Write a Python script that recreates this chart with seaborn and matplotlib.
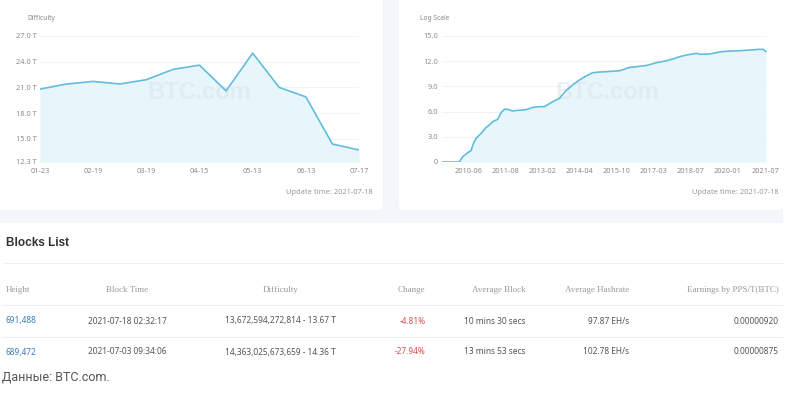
import matplotlib
matplotlib.use("Agg")
import matplotlib.pyplot as plt
import matplotlib.transforms as mtransforms
from matplotlib.patches import Rectangle, FancyBboxPatch
from matplotlib.lines import Line2D
import seaborn as sns

# ---- data ----
diff_dates = ['01-23', '02-06', '02-19', '03-05', '03-19', '04-02', '04-15',
              '04-29', '05-13', '05-28', '06-13', '07-03', '07-17']
diff_T = [20.8, 21.4, 21.7, 21.4, 21.9, 23.1, 23.6, 20.6, 25.0, 21.0, 19.9, 14.4, 13.7]
diff_yticks = [12.3, 15.0, 18.0, 21.0, 24.0, 27.0]

# log-scale history: position along the category axis, log10(difficulty)
log_pos = [0, 17.7, 21, 26, 29.3, 31.7, 34.3, 39.3, 44.3, 47.7, 51, 56, 59.3, 62.7,
           66, 71, 76, 84.3, 91, 97.7, 102.7, 109.3, 117.7, 124.3, 131, 137.7, 144.3,
           151, 157.7, 164.3, 178.3, 186.6, 195, 205, 215, 225, 233, 238, 245, 255,
           258, 268, 278, 288, 298, 308, 318, 321.6, 324.3]
log_val = [0, 0, 0.63, 1.1, 1.35, 2.2, 2.8, 3.4, 4.1, 4.4, 4.8, 5.08, 5.87, 6.27,
           6.27, 6.07, 6.15, 6.23, 6.5, 6.59, 6.59, 7.06, 7.58, 8.5, 9.17, 9.76, 10.24,
           10.63, 10.71, 10.75, 10.87, 11.23, 11.35, 11.5, 11.83, 12.06, 12.34, 12.54,
           12.74, 12.94, 12.82, 12.86, 13.1, 13.21, 13.25, 13.33, 13.41, 13.41, 13.13]
log_tick_pos = [26.7, 63.7, 101, 138.3, 175, 212, 249.3, 286, 324]
log_tick_labels = ['2010-06', '2011-08', '2013-02', '2014-04', '2015-10',
                   '2017-03', '2018-07', '2020-01', '2021-07']
log_yticks = [0, 3, 6, 9, 12, 15]

table_header = ['Height', 'Block Time', 'Difficulty', 'Change',
                'Average Block', 'Average Hashrate', 'Earnings by PPS/T(BTC)']
table_rows = [
    ['691,488', '2021-07-18 02:32:17', '13,672,594,272,814 - 13.67 T', '-4.81%',
     '10 mins 30 secs', '97.87 EH/s', '0.00000920'],
    ['689,472', '2021-07-03 09:34:06', '14,363,025,673,659 - 14.36 T', '-27.94%',
     '13 mins 53 secs', '102.78 EH/s', '0.00000875'],
]

LINE = '#62bcdc'
FILL = '#e7f6fb'
TICK = '#8c8c8c'

sns.set_theme(style="white")
plt.rcParams['font.family'] = ['Noto Sans', 'DejaVu Sans']
BOLD = ['Liberation Sans', 'DejaVu Sans']

W, H = 792, 397
fig = plt.figure(figsize=(W / 100, H / 100), dpi=100, facecolor='white')
# pixel coords, origin top-left
pix = mtransforms.Affine2D().scale(1 / W, -1 / H).translate(0, 1) + fig.transFigure

# page background + cards
fig.add_artist(Rectangle((0, -5), 783, 228, transform=pix, color='#f3f6fa', zorder=-3, lw=0))
for x0, x1 in [(-10, 383), (399, 783)]:
    fig.add_artist(FancyBboxPatch((x0, -10), x1 - x0, 220, transform=pix,
                                  boxstyle="round,pad=0,rounding_size=5",
                                  fc='white', ec='none', zorder=-2))


def axes_px(x0, y0, x1, y1):
    return fig.add_axes([x0 / W, 1 - y1 / H, (x1 - x0) / W, (y1 - y0) / H])


def style(ax):
    ax.set_facecolor('none')
    for s in ax.spines.values():
        s.set_visible(False)
    ax.tick_params(length=0, labelsize=5.3, labelcolor=TICK)
    ax.tick_params(axis='y', pad=2.5)
    ax.tick_params(axis='x', pad=4)
    ax.set_xlabel('')
    ax.set_ylabel('')


# ---------- Difficulty chart ----------
ax1 = axes_px(40, 36, 359, 162)
idx = list(range(len(diff_T)))
for t in diff_yticks:
    ax1.axhline(t, color='#f1f1f1', lw=0.6, zorder=0)
ax1.fill_between(idx, diff_T, diff_yticks[0], color=FILL, lw=0, zorder=1)
ax1.text(0.5, 0.55, 'BTC.com', transform=ax1.transAxes, ha='center', va='center',
         fontsize=17, fontweight='bold', family=BOLD, color='#dde4ea', alpha=0.55, zorder=2)
sns.lineplot(x=idx, y=diff_T, ax=ax1, color=LINE, linewidth=1.2, zorder=3)
ax1.set_xlim(0, len(diff_T) - 1)
ax1.set_ylim(diff_yticks[0], diff_yticks[-1])
ax1.set_yticks(diff_yticks)
ax1.set_yticklabels([f'{t:.1f} T' for t in diff_yticks])
ax1.set_xticks(idx[::2])
ax1.set_xticklabels(diff_dates[::2])
style(ax1)
fig.text(27, 19, 'Difficulty', transform=pix, ha='left', va='center', fontsize=4.8, color='#888888')
fig.text(372.5, 192, 'Update time: 2021-07-18', transform=pix, ha='right', va='center',
         fontsize=5.4, color='#9a9a9a')

# ---------- Log scale chart ----------
ax2 = axes_px(441.7, 36, 766.7, 162)
for t in log_yticks:
    ax2.axhline(t, color='#f1f1f1', lw=0.6, zorder=0)
ax2.fill_between(log_pos, log_val, 0, color=FILL, lw=0, zorder=1)
ax2.text(0.51, 0.55, 'BTC.com', transform=ax2.transAxes, ha='center', va='center',
         fontsize=17, fontweight='bold', family=BOLD, color='#dde4ea', alpha=0.55, zorder=2)
sns.lineplot(x=log_pos, y=log_val, ax=ax2, color=LINE, linewidth=1.2, zorder=3)
ax2.set_xlim(0, 325)
ax2.set_ylim(0, 15)
ax2.set_yticks(log_yticks)
ax2.set_yticklabels(['0'] + [f'{t:.1f}' for t in log_yticks[1:]])
ax2.set_xticks(log_tick_pos)
ax2.set_xticklabels(log_tick_labels)
style(ax2)
fig.text(420, 19, 'Log Scale', transform=pix, ha='left', va='center', fontsize=4.8, color='#888888')
fig.text(779, 192, 'Update time: 2021-07-18', transform=pix, ha='right', va='center',
         fontsize=5.4, color='#9a9a9a')

# ---------- Blocks list table ----------
fig.text(6, 243, 'Blocks List', transform=pix, ha='left', va='center',
         fontsize=8.5, fontweight='bold', family=BOLD, color='#333333')
for yy in [263, 305, 337]:
    fig.add_artist(Line2D([3, 783], [yy, yy], transform=pix, color='#eeeeee', lw=0.7))

col_x = [6, 127.5, 280.5, 425.5, 525.5, 629, 779]
col_ha = ['left', 'center', 'center', 'right', 'right', 'right', 'right']
for x, ha, txt in zip(col_x, col_ha, table_header):
    fig.text(x, 290, txt, transform=pix, ha=ha, va='center', fontsize=6.5,
             color='#999999', family=['Liberation Serif', 'DejaVu Serif'])

for row, yy in zip(table_rows, [321, 352]):
    for j, (x, ha, txt) in enumerate(zip(col_x, col_ha, row)):
        c = '#555555'
        if j == 0:
            c = '#3f7cb8'
        elif j == 3:
            c = '#d9534f'
        fig.text(x, yy, txt, transform=pix, ha=ha, va='center', fontsize=6.0, color=c)

fig.text(2, 377, 'Данные: BTC.com.', transform=pix, ha='left', va='center',
         fontsize=9, color='#555555', family=['Roboto', 'DejaVu Sans'])

fig.savefig('out.png', dpi=100)
